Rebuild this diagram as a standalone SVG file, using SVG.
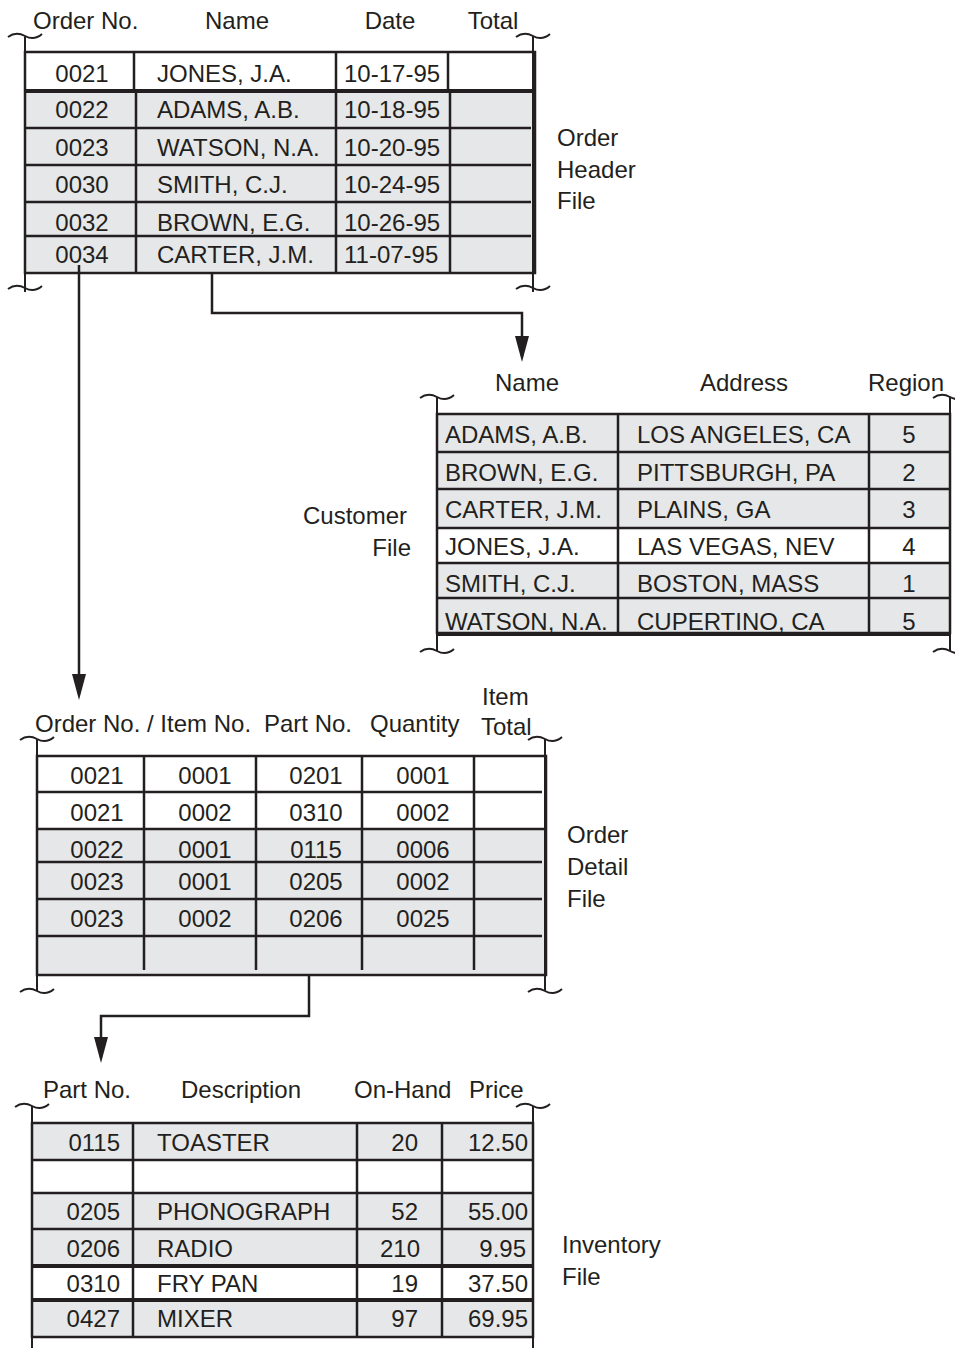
<svg xmlns="http://www.w3.org/2000/svg" xmlns:xlink="http://www.w3.org/1999/xlink" width="955" height="1348" viewBox="0 0 955 1348">
<style>
.t{font-family:"Liberation Sans",Arial,Helvetica,sans-serif;font-size:24px;fill:#231f20}
.m{text-anchor:middle}
.e{text-anchor:end}
.ln{stroke:#231f20;stroke-width:2.5;fill:none}
.tk{stroke:#231f20;stroke-width:4;fill:none}
.br{stroke:#231f20;stroke-width:2;fill:none}
.g{fill:#e6e7e8}
.w{fill:#ffffff}
</style>
<defs>
<path id="tl" d="M-17,2 Q-9,-4 0,1 Q9,6 17,-1"/>
<marker id="arr" markerUnits="userSpaceOnUse" markerWidth="26" markerHeight="14" viewBox="0 0 26 14" refX="20" refY="7" orient="auto">
<path d="M0,0 L26,7 L0,14 Z" fill="#231f20"/>
</marker>
</defs>
<rect width="955" height="1348" fill="#ffffff"/>

<g id="order-header-file">
<rect class="w" x="25" y="52" width="510" height="39"/>
<rect class="g" x="25" y="91" width="510" height="182"/>
<rect class="ln" x="25" y="52" width="510" height="221"/>
<line class="tk" x1="25" y1="91" x2="535" y2="91"/>
<path class="ln" d="M25,128H531M25,165H531M25,202H531M25,236H531"/>
<path class="ln" d="M134,52V91M336,52V91M448,52V91M136,91V273M336,91V273M450,91V273"/>
<g class="br">
<use xlink:href="#tl" x="25" y="35"/><use xlink:href="#tl" x="25" y="287"/>
<use xlink:href="#tl" x="533" y="35"/><use xlink:href="#tl" x="533" y="287"/>
<path d="M25,36V292M533,36V292"/>
</g>
<text class="t" x="33" y="29">Order No.</text>
<text class="t m" x="237" y="29">Name</text>
<text class="t m" x="390" y="29">Date</text>
<text class="t m" x="493" y="29">Total</text>
<text class="t m" x="82" y="82">0021</text><text class="t" x="157" y="82">JONES, J.A.</text><text class="t" x="344" y="82">10-17-95</text>
<text class="t m" x="82" y="118">0022</text><text class="t" x="157" y="118">ADAMS, A.B.</text><text class="t" x="344" y="118">10-18-95</text>
<text class="t m" x="82" y="156">0023</text><text class="t" x="157" y="156">WATSON, N.A.</text><text class="t" x="344" y="156">10-20-95</text>
<text class="t m" x="82" y="193">0030</text><text class="t" x="157" y="193">SMITH, C.J.</text><text class="t" x="344" y="193">10-24-95</text>
<text class="t m" x="82" y="231">0032</text><text class="t" x="157" y="231">BROWN, E.G.</text><text class="t" x="344" y="231">10-26-95</text>
<text class="t m" x="82" y="263">0034</text><text class="t" x="157" y="263">CARTER, J.M.</text><text class="t" x="344" y="263">11-07-95</text>
<text class="t" x="557" y="146">Order</text>
<text class="t" x="557" y="178">Header</text>
<text class="t" x="557" y="209">File</text>
</g>

<g id="customer-file">
<rect class="g" x="437" y="414" width="513" height="219"/>
<rect class="w" x="437" y="528" width="513" height="35"/>
<rect class="ln" x="437" y="414" width="513" height="219"/>
<line class="tk" x1="437" y1="634" x2="950" y2="634"/>
<path class="ln" d="M437,452H950M437,489H950M437,528H950M437,563H950M437,598H950"/>
<path class="ln" d="M618,414V633M869,414V633"/>
<g class="br">
<use xlink:href="#tl" x="437" y="396"/><use xlink:href="#tl" x="437" y="650"/>
<use xlink:href="#tl" x="950" y="396"/><use xlink:href="#tl" x="950" y="650"/>
<path d="M437,397V651M950,397V651"/>
</g>
<text class="t m" x="527" y="391">Name</text>
<text class="t m" x="744" y="391">Address</text>
<text class="t m" x="906" y="391">Region</text>
<text class="t" x="445" y="443">ADAMS, A.B.</text><text class="t" x="637" y="443">LOS ANGELES, CA</text><text class="t m" x="909" y="443">5</text>
<text class="t" x="445" y="481">BROWN, E.G.</text><text class="t" x="637" y="481">PITTSBURGH, PA</text><text class="t m" x="909" y="481">2</text>
<text class="t" x="445" y="518">CARTER, J.M.</text><text class="t" x="637" y="518">PLAINS, GA</text><text class="t m" x="909" y="518">3</text>
<text class="t" x="445" y="555">JONES, J.A.</text><text class="t" x="637" y="555">LAS VEGAS, NEV</text><text class="t m" x="909" y="555">4</text>
<text class="t" x="445" y="592">SMITH, C.J.</text><text class="t" x="637" y="592">BOSTON, MASS</text><text class="t m" x="909" y="592">1</text>
<text class="t" x="445" y="630">WATSON, N.A.</text><text class="t" x="637" y="630">CUPERTINO, CA</text><text class="t m" x="909" y="630">5</text>
<text class="t e" x="407" y="524">Customer</text>
<text class="t e" x="411" y="556">File</text>
</g>

<g id="order-detail-file">
<rect class="w" x="37" y="756" width="509" height="73"/>
<rect class="g" x="37" y="829" width="509" height="146"/>
<rect class="ln" x="37" y="756" width="509" height="219"/>
<path class="ln" d="M37,792H542M37,829H546M37,862H542M37,899H542M37,936H542"/>
<path class="ln" d="M144,756V970M256,756V970M362,756V970M474,756V970"/>
<g class="br">
<use xlink:href="#tl" x="37" y="738"/><use xlink:href="#tl" x="37" y="990"/>
<use xlink:href="#tl" x="545" y="738"/><use xlink:href="#tl" x="545" y="990"/>
<path d="M37,739V991M545,739V991"/>
</g>
<text class="t" x="35" y="732">Order No. / Item No.</text>
<text class="t" x="264" y="732">Part No.</text>
<text class="t" x="370" y="732">Quantity</text>
<text class="t" x="482" y="705">Item</text>
<text class="t" x="481" y="735">Total</text>
<text class="t m" x="97" y="784">0021</text><text class="t m" x="205" y="784">0001</text><text class="t m" x="316" y="784">0201</text><text class="t m" x="423" y="784">0001</text>
<text class="t m" x="97" y="821">0021</text><text class="t m" x="205" y="821">0002</text><text class="t m" x="316" y="821">0310</text><text class="t m" x="423" y="821">0002</text>
<text class="t m" x="97" y="858">0022</text><text class="t m" x="205" y="858">0001</text><text class="t m" x="316" y="858">0115</text><text class="t m" x="423" y="858">0006</text>
<text class="t m" x="97" y="890">0023</text><text class="t m" x="205" y="890">0001</text><text class="t m" x="316" y="890">0205</text><text class="t m" x="423" y="890">0002</text>
<text class="t m" x="97" y="927">0023</text><text class="t m" x="205" y="927">0002</text><text class="t m" x="316" y="927">0206</text><text class="t m" x="423" y="927">0025</text>
<text class="t" x="567" y="843">Order</text>
<text class="t" x="567" y="875">Detail</text>
<text class="t" x="567" y="907">File</text>
</g>

<g id="inventory-file">
<rect class="g" x="32" y="1123" width="501" height="214"/>
<rect class="w" x="32" y="1160" width="501" height="33"/>
<rect class="w" x="32" y="1266" width="501" height="34"/>
<rect class="ln" x="32" y="1123" width="501" height="214"/>
<path class="ln" d="M32,1160H533M32,1193H533M32,1229H533"/>
<path class="tk" d="M32,1266H533M32,1300H533"/>
<path class="ln" d="M133,1123V1337M357,1123V1337M442,1123V1337"/>
<g class="br">
<use xlink:href="#tl" x="32" y="1105"/><use xlink:href="#tl" x="533" y="1105"/>
<path d="M32,1106V1348M533,1106V1348"/>
</g>
<text class="t" x="43" y="1098">Part No.</text>
<text class="t m" x="241" y="1098">Description</text>
<text class="t" x="354" y="1098">On-Hand</text>
<text class="t" x="469" y="1098">Price</text>
<text class="t e" x="120" y="1151">0115</text><text class="t" x="157" y="1151">TOASTER</text><text class="t e" x="418" y="1151">20</text><text class="t e" x="528" y="1151">12.50</text>
<text class="t e" x="120" y="1220">0205</text><text class="t" x="157" y="1220">PHONOGRAPH</text><text class="t e" x="418" y="1220">52</text><text class="t e" x="528" y="1220">55.00</text>
<text class="t e" x="120" y="1257">0206</text><text class="t" x="157" y="1257">RADIO</text><text class="t e" x="420" y="1257">210</text><text class="t e" x="526" y="1257">9.95</text>
<text class="t e" x="120" y="1292">0310</text><text class="t" x="157" y="1292">FRY PAN</text><text class="t e" x="418" y="1292">19</text><text class="t e" x="528" y="1292">37.50</text>
<text class="t e" x="120" y="1327">0427</text><text class="t" x="157" y="1327">MIXER</text><text class="t e" x="418" y="1327">97</text><text class="t e" x="528" y="1327">69.95</text>
<text class="t" x="562" y="1253">Inventory</text>
<text class="t" x="562" y="1285">File</text>
</g>

<g id="connectors" class="ln">
<path d="M79,265V694" marker-end="url(#arr)"/>
<path d="M212,273V313H522V356" marker-end="url(#arr)"/>
<path d="M309,975V1016H101V1057" marker-end="url(#arr)"/>
</g>
</svg>
